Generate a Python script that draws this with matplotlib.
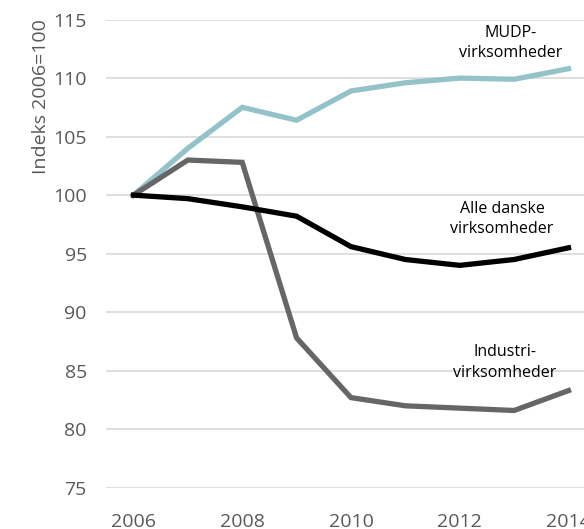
import numpy as np
import matplotlib
matplotlib.use('Agg')
import matplotlib.pyplot as plt

years = [2006, 2007, 2008, 2009, 2010, 2011, 2012, 2013, 2014]
mudp = [100, 104.0, 107.5, 106.4, 108.9, 109.6, 110.0, 109.9, 110.8]
alle = [100, 99.7, 99.0, 98.2, 95.6, 94.5, 94.0, 94.5, 95.5]
industri = [100, 103.0, 102.8, 87.8, 82.7, 82.0, 81.8, 81.6, 83.3]
yticks = [75, 80, 85, 90, 95, 100, 105, 110, 115]
xticks = [2006, 2008, 2010, 2012, 2014]

plt.rcParams['font.family'] = ['Open Sans', 'DejaVu Sans']

fig = plt.figure(figsize=(5.84, 5.29), dpi=100)
ax = fig.add_axes([0.182, 0.078, 0.838, 0.885])

ax.plot(years, mudp, color='#93c3c8', lw=3.8, solid_joinstyle='miter', zorder=3)
ax.plot(years, industri, color='#666666', lw=3.8, solid_joinstyle='miter', zorder=4)
ax.plot(years, alle, color='#000000', lw=3.8, solid_joinstyle='miter', zorder=5)

ax.set_xlim(2005.5, 2014.5)
ax.set_ylim(75, 115)
ax.set_yticks(yticks)
ax.set_xticks(xticks)
ax.grid(axis='y', color='#d9d9d9', lw=1.2)
ax.set_axisbelow(True)
for s in ax.spines.values():
    s.set_visible(False)
ax.tick_params(length=0, labelsize=14, labelcolor='#595959')
ax.tick_params(axis='x', pad=18)
ax.tick_params(axis='y', pad=14)
ax.set_ylabel('Indeks 2006=100', fontsize=14, color='#595959', labelpad=2, loc='top')

ax.text(2012.93, 113.0, 'MUDP-\nvirksomheder', ha='center', va='center',
        fontsize=11.5, linespacing=1.35)
ax.text(2012.78, 97.96, 'Alle danske\nvirksomheder', ha='center', va='center',
        fontsize=11.5, linespacing=1.35)
ax.text(2012.83, 85.7, 'Industri-\nvirksomheder', ha='center', va='center',
        fontsize=11.5, linespacing=1.35)

fig.savefig('out.png', dpi=100)
